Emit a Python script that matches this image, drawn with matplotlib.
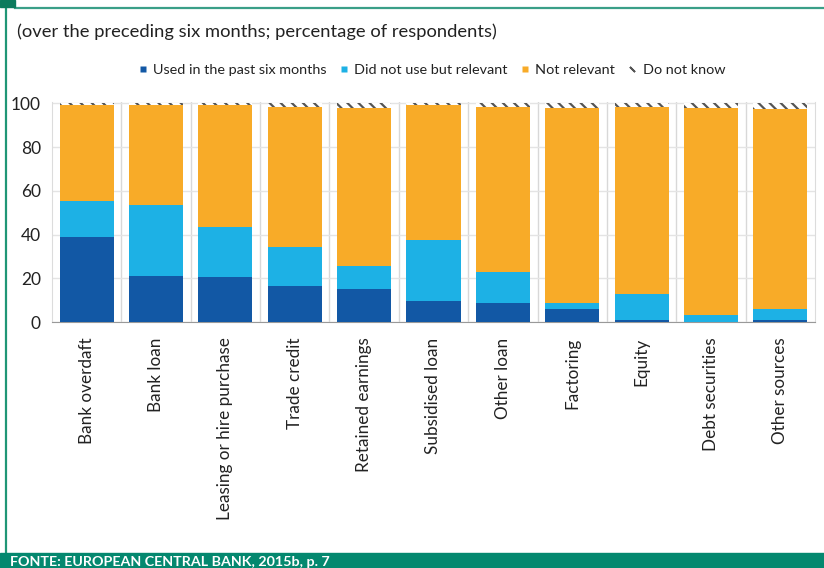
import numpy as np
import matplotlib
matplotlib.use("Agg")
import matplotlib.pyplot as plt
from matplotlib.patches import Rectangle
from matplotlib.lines import Line2D

plt.rcParams['font.family'] = ['Lato', 'DejaVu Sans']
plt.rcParams['hatch.linewidth'] = 1.6

# ------------------------------
# Data (percentage of respondents)
# ------------------------------
categories = ["Bank overdaft", "Bank loan", "Leasing or hire purchase", "Trade credit",
              "Retained earnings", "Subsidised loan", "Other loan", "Factoring",
              "Equity", "Debt securities", "Other sources"]
used = [39, 21, 20.5, 16.5, 15, 9.5, 9, 6, 1, 0.3, 1]
relevant = [16.5, 32.5, 23, 18, 10.5, 28, 14, 3, 12, 3, 5]
not_relevant = [43.5, 45.5, 55.5, 64, 72.5, 61.5, 75.5, 89, 85.5, 94.7, 91.5]
do_not_know = [1, 1, 1, 1.5, 2, 1, 1.5, 2, 1.5, 2, 2.5]
series_names = ["Used in the past six months", "Did not use but relevant",
                "Not relevant", "Do not know"]

c_dark = "#1258a5"
c_light = "#1db1e5"
c_orange = "#f8ab28"
c_green = "#04886f"
c_text = "#222222"

fig = plt.figure(figsize=(8.24, 5.68), dpi=100)
ax = fig.add_axes([52 / 824, (568 - 322.3) / 568, 763 / 824, 220.1 / 568])

x = np.arange(len(categories))
w = 0.78
b1 = np.array(used)
b2 = b1 + np.array(relevant)
b3 = b2 + np.array(not_relevant)

ax.bar(x, used, w, color=c_dark, zorder=3)
ax.bar(x, relevant, w, bottom=b1, color=c_light, zorder=3)
ax.bar(x, not_relevant, w, bottom=b2, color=c_orange, zorder=3)
ax.bar(x, do_not_know, w, bottom=b3, color="white", edgecolor="#555555",
       hatch="\\\\\\", linewidth=0, zorder=3)

ax.set_xlim(-0.5, len(categories) - 0.5)
ax.set_ylim(0, 100.5)
ax.set_yticks([0, 20, 40, 60, 80, 100])
ax.set_xticks(x)
ax.set_xticklabels(categories, rotation=90, fontsize=12.3, color=c_text)
ax.tick_params(axis='y', length=0, labelsize=12.5, labelcolor=c_text, pad=8)
ax.tick_params(axis='x', length=0, pad=11)

# grid: horizontal lines + vertical separators between bars
ax.set_xticks(x[:-1] + 0.5, minor=True)
ax.tick_params(axis='x', which='minor', length=0)
ax.grid(axis='y', color="#e4e4e4", linewidth=1, zorder=0)
ax.grid(axis='x', which='minor', color="#d8d8d8", linewidth=1, zorder=0)
ax.grid(axis='x', which='major', visible=False)
for s in ['left', 'right']:
    ax.spines[s].set_color("#dcdcdc")
ax.spines['top'].set_visible(False)
ax.spines['bottom'].set_color("#999999")

# Legend
handles = [
    Line2D([], [], marker='s', color='none', markerfacecolor=c_dark, markeredgecolor='none', markersize=4.5),
    Line2D([], [], marker='s', color='none', markerfacecolor=c_light, markeredgecolor='none', markersize=4.5),
    Line2D([], [], marker='s', color='none', markerfacecolor=c_orange, markeredgecolor='none', markersize=4.5),
    Line2D([], [], marker=(2, 2, 45), color='none', markeredgecolor="#555555", markersize=5, markeredgewidth=1.3),
]
fig.legend(handles, series_names, loc='center', bbox_to_anchor=(432 / 824, 1 - 70 / 568),
           ncol=4, frameon=False, fontsize=10.4, handlelength=0.6, handletextpad=0.4,
           columnspacing=0.9, labelcolor=c_text)

# Subtitle
fig.text(17 / 824, 1 - 32 / 568, "(over the preceding six months; percentage of respondents)",
         fontsize=13.2, color=c_text, va='center', ha='left')

# Frame decorations
fig.add_artist(Rectangle((0, 1 - 7 / 568), 15 / 824, 7 / 568, transform=fig.transFigure,
                         color="#0b7a5c", zorder=5))
fig.add_artist(Line2D([15 / 824, 1], [1 - 7.5 / 568] * 2, transform=fig.transFigure,
                      color="#3a9f88", linewidth=1.6))
fig.add_artist(Line2D([6 / 824] * 2, [15 / 568, 1], transform=fig.transFigure,
                      color="#1f9676", linewidth=1.6))
fig.add_artist(Rectangle((0, 0), 1, 15 / 568, transform=fig.transFigure,
                         color=c_green, zorder=5))
fig.text(10 / 824, 1 - 556 / 568, "FONTE: EUROPEAN CENTRAL BANK, 2015b, p. 7",
         fontsize=10.3, fontweight='bold', color="white", va='top', ha='left', zorder=6)

fig.savefig("out.png", dpi=100)
